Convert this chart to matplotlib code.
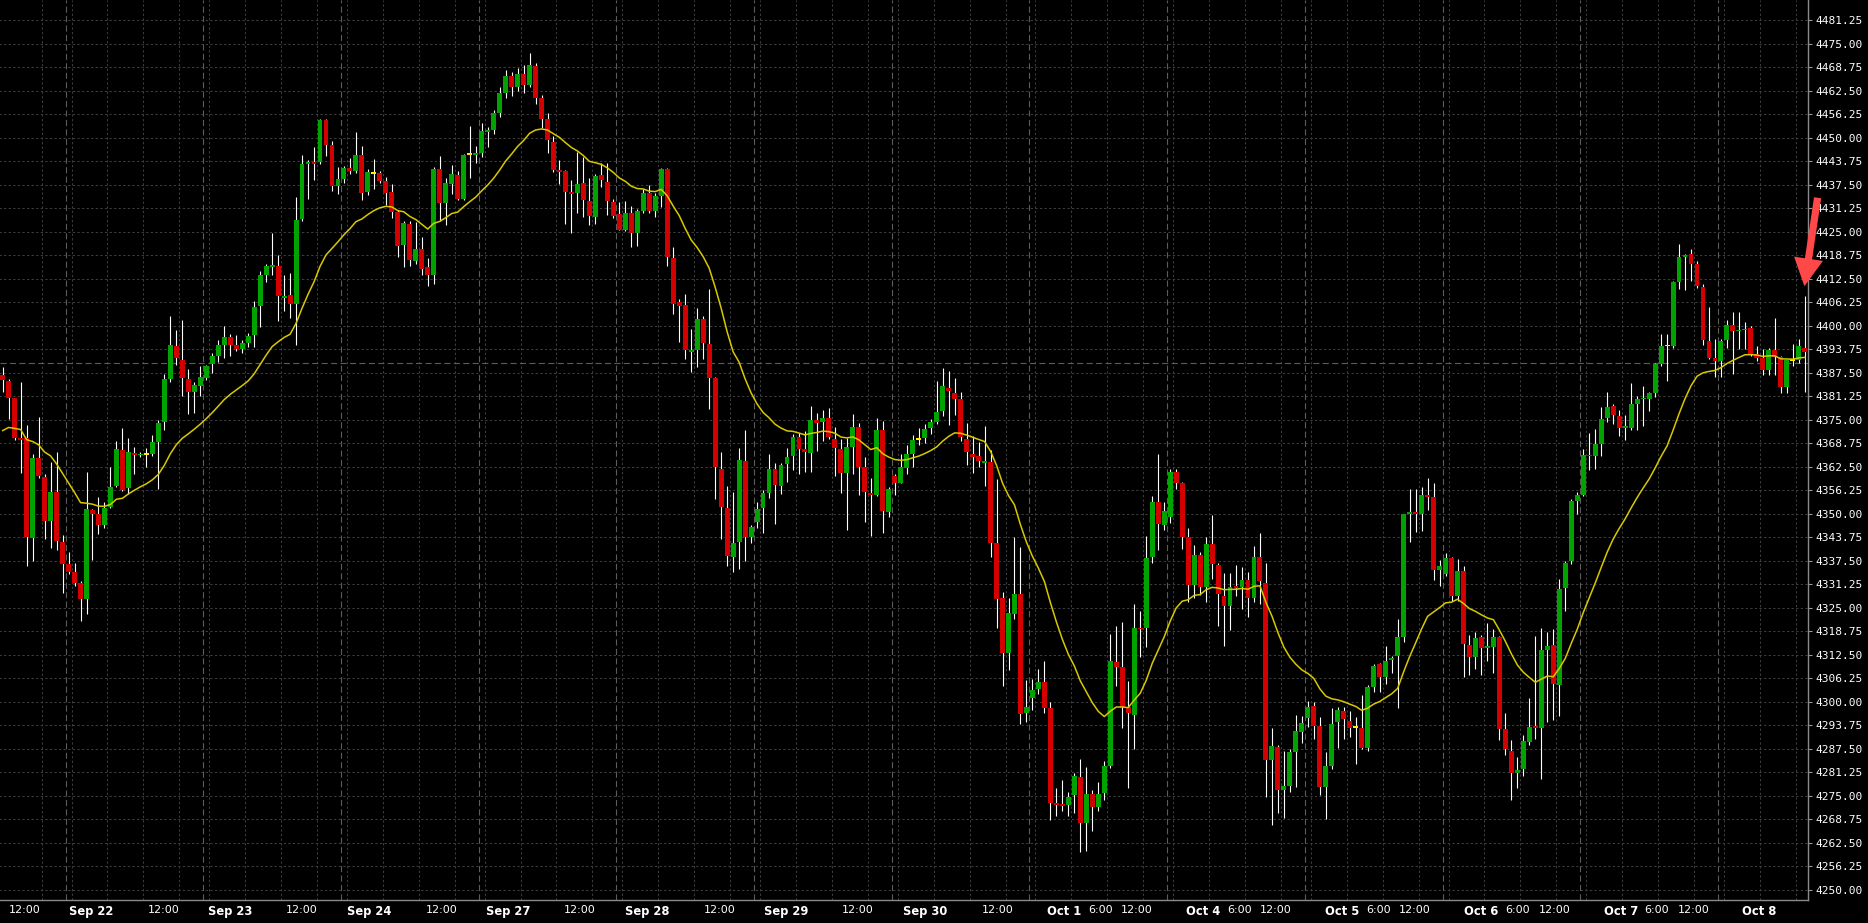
import numpy as np
import pandas as pd
import matplotlib
matplotlib.use('Agg')
import matplotlib.pyplot as plt
from matplotlib.patches import FancyArrowPatch

# ─── DATA (hourly candles) ──────────────────────────────────────
opens = [
    4386.9, 4385.3, 4380.7, 4370.1, 4370.1, 4343.6, 4364.8, 4359.8, 4348.1, 4355.8,
    4342.5, 4336.5, 4334.5, 4331.6, 4327.2, 4351.0, 4349.8, 4347.1, 4351.9, 4357.4,
    4367.0, 4356.8, 4366.1, 4365.5, 4365.6, 4366.0, 4369.2, 4374.5, 4385.9, 4394.5,
    4390.9, 4385.9, 4382.5, 4384.1, 4386.1, 4389.7, 4391.9, 4395.0, 4397.0, 4395.0,
    4393.8, 4395.3, 4397.5, 4405.2, 4413.4, 4415.6, 4416.0, 4407.5, 4408.1, 4405.8,
    4428.4, 4443.1, 4443.5, 4443.6, 4454.7, 4448.0, 4437.1, 4439.1, 4442.0, 4441.1,
    4445.5, 4435.5, 4440.4, 4440.6, 4438.6, 4435.5, 4430.2, 4421.4, 4427.1, 4417.3,
    4420.3, 4415.6, 4413.6, 4441.6, 4432.7, 4437.6, 4440.2, 4433.8, 4445.4, 4445.4,
    4446.0, 4451.6, 4452.0, 4456.5, 4462.0, 4466.5, 4463.5, 4467.0, 4464.0, 4469.0,
    4460.5, 4455.0, 4448.9, 4441.4, 4441.2, 4435.5, 4435.2, 4437.9, 4433.2, 4429.0,
    4440.2, 4438.2, 4433.0, 4429.7, 4425.4, 4430.0, 4424.8, 4430.6, 4435.3, 4430.4,
    4434.6, 4441.8, 4418.0, 4406.2, 4405.6, 4392.9, 4393.6, 4401.9, 4395.1, 4386.1,
    4361.9, 4351.5, 4338.5, 4342.6, 4363.9, 4343.9, 4347.7, 4351.4, 4355.6, 4362.0,
    4357.4, 4363.2, 4365.3, 4370.3, 4367.3, 4366.2, 4374.8, 4374.5, 4375.4, 4370.0,
    4367.1, 4360.8, 4367.7, 4373.0, 4362.4, 4355.4, 4355.0, 4372.2, 4350.5, 4359.9,
    4358.3, 4362.2, 4365.9, 4369.6, 4370.1, 4372.8, 4374.3, 4377.3, 4383.5, 4382.2,
    4380.6, 4370.0, 4366.0, 4365.3, 4363.5, 4363.7, 4342.1, 4327.5, 4313.0, 4323.4,
    4328.7, 4297.0, 4301.0, 4303.3, 4305.1, 4298.3, 4273.1, 4272.7, 4272.5, 4275.1,
    4280.0, 4267.6, 4275.4, 4271.9, 4275.6, 4282.9, 4310.6, 4309.3, 4298.6, 4296.5,
    4319.6, 4319.5, 4338.4, 4353.0, 4347.0, 4349.2, 4361.0, 4358.3, 4343.9, 4331.0,
    4339.1, 4330.4, 4341.9, 4336.4, 4328.2, 4325.5, 4330.8, 4330.4, 4332.4, 4327.5,
    4338.5, 4331.7, 4284.5, 4288.0, 4276.6, 4277.6, 4286.5, 4292.0, 4295.6, 4298.9,
    4293.6, 4277.2, 4282.9, 4294.5, 4297.6, 4294.9, 4293.1, 4293.1, 4287.8, 4304.0,
    4310.0, 4306.6, 4311.0, 4312.1, 4317.2, 4350.0, 4350.5, 4350.0, 4355.0, 4354.5,
    4335.0, 4334.0, 4338.2, 4328.2, 4334.7, 4315.0, 4311.9, 4317.2, 4314.3, 4314.5,
    4317.2, 4292.8, 4287.0, 4281.0, 4282.0, 4289.3, 4293.4, 4293.1, 4313.8, 4315.0,
    4304.5, 4330.2, 4337.3, 4353.4, 4355.1, 4365.7, 4365.4, 4368.6, 4375.5, 4378.6,
    4376.0, 4372.8, 4372.9, 4379.1, 4380.4, 4380.4, 4382.0, 4389.9, 4394.5, 4394.5,
    4411.6, 4418.4, 4419.0, 4416.5, 4410.4, 4396.0, 4391.3, 4390.6, 4396.2, 4400.3,
    4398.5, 4398.8, 4399.5, 4392.6, 4391.3, 4388.2, 4393.6, 4391.8, 4383.8, 4390.6,
    4390.9, 4394.0,
]
highs = [
    4388.9, 4385.8, 4380.9, 4385.0, 4373.6, 4366.0, 4375.7, 4360.5, 4363.8, 4366.4,
    4344.3, 4339.7, 4336.9, 4332.0, 4361.1, 4351.2, 4354.5, 4353.1, 4362.4, 4369.4,
    4372.9, 4370.2, 4367.8, 4366.5, 4367.6, 4371.0, 4374.9, 4387.1, 4402.5, 4399.0,
    4401.5, 4388.5, 4385.0, 4389.2, 4389.6, 4392.8, 4396.3, 4399.9, 4397.9, 4397.5,
    4396.3, 4398.1, 4406.5, 4414.7, 4416.5, 4424.6, 4418.9, 4413.6, 4414.1, 4434.2,
    4445.3, 4444.2, 4447.5, 4455.0, 4455.0, 4449.1, 4442.2, 4442.4, 4444.7, 4451.6,
    4447.8, 4441.7, 4444.4, 4441.3, 4439.5, 4437.6, 4430.9, 4428.0, 4428.0, 4427.6,
    4423.6, 4418.1, 4442.2, 4445.1, 4439.3, 4442.7, 4441.3, 4445.8, 4453.1, 4447.8,
    4454.0, 4452.8, 4457.5, 4463.5, 4468.0, 4467.5, 4468.5, 4469.5, 4472.5, 4470.0,
    4461.5, 4456.5, 4450.5, 4444.1, 4441.5, 4438.7, 4446.1, 4444.8, 4439.3, 4440.3,
    4443.4, 4443.4, 4433.7, 4432.8, 4433.2, 4431.9, 4431.0, 4436.3, 4437.5, 4435.2,
    4442.1, 4442.1, 4421.0, 4407.1, 4408.4, 4399.1, 4404.7, 4402.6, 4409.7, 4386.5,
    4366.3, 4357.4, 4355.8, 4367.6, 4372.2, 4347.0, 4353.0, 4356.3, 4365.8, 4363.6,
    4363.5, 4367.5, 4371.1, 4371.6, 4372.0, 4378.6, 4376.7, 4377.7, 4378.1, 4373.0,
    4369.8, 4370.2, 4376.4, 4374.0, 4365.0, 4359.5, 4375.4, 4374.6, 4357.2, 4360.6,
    4365.9, 4368.4, 4370.9, 4372.9, 4373.8, 4375.2, 4385.3, 4388.8, 4387.9, 4386.2,
    4382.4, 4374.1, 4370.7, 4369.1, 4373.4, 4366.9, 4359.2, 4329.3, 4327.5, 4343.7,
    4341.2, 4305.7, 4306.0, 4308.6, 4310.9, 4299.8, 4277.0, 4279.2, 4276.1, 4280.9,
    4284.7, 4282.7, 4276.5, 4278.7, 4284.1, 4318.1, 4320.2, 4321.2, 4305.6, 4325.9,
    4324.2, 4344.1, 4354.8, 4365.9, 4353.0, 4361.9, 4361.9, 4358.5, 4346.3, 4341.7,
    4339.7, 4343.7, 4349.7, 4337.0, 4334.1, 4334.1, 4336.4, 4335.9, 4334.4, 4341.5,
    4344.8, 4336.8, 4293.0, 4288.5, 4286.8, 4287.5, 4296.5, 4296.2, 4300.1, 4300.0,
    4295.8, 4286.5, 4298.3, 4298.5, 4298.5, 4297.6, 4295.8, 4301.8, 4304.5, 4310.0,
    4310.3, 4314.8, 4312.1, 4322.0, 4350.0, 4356.7, 4356.7, 4357.2, 4359.6, 4358.2,
    4337.6, 4339.5, 4338.6, 4337.9, 4336.0, 4317.7, 4318.6, 4317.7, 4321.0, 4319.4,
    4317.5, 4297.1, 4289.7, 4285.4, 4291.2, 4301.0, 4317.4, 4319.6, 4318.6, 4319.3,
    4332.6, 4337.4, 4354.0, 4355.8, 4367.3, 4371.4, 4372.6, 4378.4, 4382.5, 4379.1,
    4377.5, 4376.2, 4384.9, 4381.3, 4383.9, 4382.5, 4390.2, 4397.8, 4397.8, 4411.8,
    4421.8, 4419.1, 4420.5, 4417.1, 4411.0, 4405.1, 4396.4, 4396.4, 4401.5, 4403.6,
    4403.6, 4400.9, 4399.9, 4394.7, 4393.8, 4394.2, 4402.0, 4392.0, 4391.0, 4395.1,
    4396.4, 4408.0,
]
lows = [
    4382.5, 4375.1, 4369.5, 4360.9, 4336.1, 4337.3, 4359.5, 4343.4, 4341.0, 4340.4,
    4329.0, 4334.0, 4330.8, 4321.5, 4323.3, 4337.6, 4344.7, 4346.3, 4351.5, 4357.0,
    4356.0, 4355.3, 4360.5, 4365.0, 4362.5, 4365.3, 4356.5, 4372.2, 4385.0, 4389.5,
    4381.3, 4376.6, 4376.9, 4381.3, 4385.7, 4387.5, 4390.4, 4391.3, 4391.9, 4393.3,
    4392.8, 4394.3, 4394.3, 4399.6, 4411.7, 4413.6, 4401.2, 4404.0, 4402.1, 4394.8,
    4427.8, 4433.8, 4438.8, 4442.9, 4445.1, 4435.8, 4435.1, 4438.0, 4440.4, 4440.7,
    4433.4, 4434.9, 4436.4, 4438.0, 4432.2, 4428.7, 4418.2, 4415.6, 4416.0, 4416.5,
    4413.6, 4410.5, 4411.0, 4427.8, 4426.9, 4435.1, 4433.5, 4433.5, 4439.4, 4443.3,
    4444.8, 4447.5, 4451.0, 4455.5, 4460.5, 4461.0, 4462.5, 4462.0, 4463.5, 4459.0,
    4452.5, 4446.0, 4441.0, 4437.7, 4427.0, 4424.8, 4430.1, 4428.8, 4426.8, 4427.2,
    4437.0, 4429.4, 4428.6, 4425.4, 4425.2, 4421.0, 4421.3, 4430.1, 4429.9, 4428.8,
    4431.5, 4416.0, 4403.1, 4395.8, 4391.1, 4387.8, 4389.1, 4391.1, 4377.8, 4354.0,
    4343.2, 4336.1, 4334.5, 4335.2, 4337.3, 4342.3, 4346.1, 4345.0, 4354.3, 4347.2,
    4355.2, 4358.5, 4361.7, 4360.6, 4361.0, 4361.2, 4366.6, 4369.3, 4369.8, 4360.1,
    4355.4, 4345.7, 4360.6, 4355.1, 4347.8, 4344.0, 4354.6, 4344.9, 4349.0, 4355.0,
    4358.1, 4360.6, 4362.4, 4368.4, 4368.9, 4371.1, 4373.8, 4375.9, 4373.6, 4376.3,
    4369.3, 4362.9, 4360.8, 4362.4, 4357.4, 4338.5, 4319.6, 4304.2, 4308.5, 4322.1,
    4294.1, 4294.7, 4297.7, 4302.1, 4297.0, 4268.6, 4269.7, 4270.9, 4269.6, 4270.5,
    4259.9, 4260.2, 4265.5, 4271.0, 4273.9, 4282.3, 4304.2, 4292.9, 4277.0, 4287.4,
    4311.9, 4314.6, 4337.0, 4340.3, 4345.6, 4347.4, 4356.5, 4340.6, 4326.4, 4327.5,
    4328.4, 4326.4, 4332.6, 4320.2, 4314.9, 4319.0, 4328.0, 4324.6, 4322.4, 4326.6,
    4326.1, 4274.7, 4267.2, 4270.3, 4269.0, 4276.1, 4277.2, 4289.1, 4293.3, 4290.2,
    4275.2, 4268.9, 4282.0, 4287.6, 4290.2, 4290.7, 4283.4, 4287.3, 4286.8, 4302.7,
    4302.7, 4304.8, 4307.7, 4298.4, 4316.0, 4342.5, 4345.2, 4345.3, 4350.9, 4332.4,
    4330.9, 4333.5, 4326.8, 4326.8, 4306.6, 4307.1, 4308.7, 4307.1, 4310.9, 4307.7,
    4289.7, 4285.8, 4273.8, 4276.9, 4280.3, 4288.5, 4290.2, 4279.4, 4294.5, 4295.0,
    4296.2, 4324.1, 4336.5, 4349.8, 4354.8, 4361.7, 4362.0, 4365.4, 4374.3, 4373.8,
    4370.7, 4369.5, 4372.4, 4372.2, 4373.3, 4377.2, 4381.0, 4389.3, 4385.3, 4394.0,
    4409.8, 4409.5, 4412.0, 4410.0, 4394.9, 4391.1, 4386.4, 4386.4, 4394.2, 4387.1,
    4393.8, 4393.8, 4392.0, 4390.6, 4386.9, 4386.9, 4386.9, 4382.2, 4382.2, 4389.3,
    4390.0, 4382.5,
]
closes = [
    4385.6, 4380.9, 4370.2, 4369.6, 4343.9, 4364.7, 4359.9, 4348.1, 4355.8, 4342.8,
    4336.5, 4334.5, 4331.6, 4327.2, 4351.3, 4350.0, 4347.1, 4351.5, 4357.1, 4367.2,
    4356.4, 4366.4, 4365.5, 4365.8, 4365.6, 4369.1, 4374.2, 4385.9, 4395.0, 4391.3,
    4386.2, 4382.5, 4384.3, 4386.5, 4389.2, 4391.9, 4395.0, 4397.0, 4395.0, 4393.8,
    4395.3, 4397.2, 4405.0, 4413.4, 4415.8, 4416.0, 4407.9, 4407.9, 4405.8, 4428.1,
    4442.9, 4443.5, 4443.1, 4454.7, 4448.0, 4437.1, 4439.1, 4442.0, 4441.1, 4445.4,
    4435.4, 4440.8, 4440.4, 4438.6, 4435.4, 4430.2, 4421.2, 4427.4, 4417.4, 4420.3,
    4415.2, 4413.6, 4441.6, 4432.7, 4438.0, 4440.5, 4433.8, 4445.5, 4445.4, 4445.8,
    4451.8, 4452.0, 4456.5, 4462.0, 4466.5, 4463.5, 4467.0, 4464.0, 4469.5, 4460.5,
    4455.0, 4449.5, 4441.5, 4441.0, 4435.5, 4435.0, 4437.8, 4433.5, 4429.2, 4439.9,
    4438.7, 4433.2, 4429.2, 4425.4, 4429.9, 4424.8, 4430.6, 4435.3, 4430.4, 4434.6,
    4441.8, 4418.2, 4405.9, 4405.3, 4393.5, 4393.5, 4401.8, 4395.5, 4386.2, 4362.3,
    4351.7, 4338.8, 4342.3, 4364.2, 4343.9, 4346.5, 4351.2, 4355.5, 4362.0, 4357.6,
    4363.0, 4365.0, 4370.5, 4367.3, 4366.4, 4375.0, 4374.1, 4375.4, 4370.4, 4367.5,
    4360.8, 4367.8, 4373.0, 4362.4, 4355.8, 4355.0, 4372.2, 4350.7, 4356.5, 4358.3,
    4362.3, 4365.9, 4369.6, 4369.6, 4372.5, 4374.3, 4377.0, 4383.9, 4382.6, 4380.4,
    4370.4, 4366.4, 4365.0, 4364.0, 4364.0, 4342.2, 4327.3, 4313.0, 4323.5, 4328.7,
    4296.7, 4298.5, 4303.0, 4305.3, 4298.3, 4273.1, 4272.5, 4272.3, 4274.7, 4280.3,
    4267.6, 4275.4, 4272.1, 4275.4, 4282.9, 4310.9, 4309.3, 4298.6, 4296.9, 4319.6,
    4319.2, 4338.2, 4353.0, 4347.2, 4350.8, 4361.0, 4358.3, 4343.9, 4331.0, 4339.1,
    4330.6, 4341.9, 4336.6, 4328.6, 4325.5, 4330.6, 4330.2, 4332.4, 4327.5, 4338.4,
    4332.0, 4284.5, 4288.3, 4276.6, 4277.6, 4286.5, 4292.1, 4294.2, 4298.6, 4293.6,
    4277.2, 4282.9, 4294.0, 4297.7, 4295.4, 4293.1, 4293.1, 4287.8, 4303.9, 4309.5,
    4306.6, 4310.9, 4311.7, 4317.2, 4349.8, 4350.5, 4350.0, 4355.0, 4354.4, 4335.0,
    4336.0, 4338.2, 4328.2, 4334.7, 4315.3, 4311.9, 4317.0, 4314.3, 4314.5, 4317.2,
    4292.8, 4287.5, 4281.0, 4281.8, 4289.5, 4293.3, 4293.1, 4313.8, 4314.8, 4304.7,
    4329.9, 4337.0, 4353.4, 4355.1, 4365.6, 4365.3, 4368.6, 4375.3, 4378.4, 4376.2,
    4372.9, 4373.0, 4379.1, 4380.4, 4380.9, 4382.0, 4389.9, 4394.7, 4394.5, 4411.6,
    4418.4, 4418.9, 4416.5, 4410.7, 4396.2, 4391.3, 4390.6, 4396.0, 4400.3, 4398.7,
    4398.9, 4399.2, 4392.6, 4391.3, 4388.2, 4393.6, 4391.8, 4383.8, 4390.8, 4390.6,
    4394.5, 4393.1,
]

# yellow line on the chart is a 20 bar EMA of the closes; value at the left edge
MA_SEED = 4370.7
MA_SPAN = 20
LAST_LINE = 4390.1   # dashed horizontal price line

# time axis labels (position in bar units)
tick_labels = ["12:00", "Sep 22", "12:00", "Sep 23", "12:00", "Sep 24", "12:00", "Sep 27",
               "12:00", "Sep 28", "12:00", "Sep 29", "12:00", "Sep 30", "12:00",
               "Oct 1", "6:00", "12:00", "Oct 4", "6:00", "12:00", "Oct 5", "6:00", "12:00",
               "Oct 6", "6:00", "12:00", "Oct 7", "6:00", "12:00", "Oct 8"]
tick_pos = [3.66, 14.72, 26.84, 37.95, 50.02, 61.22, 73.26, 84.40, 96.41, 107.60,
            119.68, 130.82, 142.86, 154.02, 166.13, 177.23, 183.40, 189.33, 200.53,
            206.66, 212.58, 223.80, 229.85, 235.89, 247.00, 253.10, 259.15, 270.25,
            276.30, 282.41, 293.38]

# ─── STYLE ──────────────────────────────────────────────────────
BG = '#000000'
UP = '#00a300'
DOWN = '#d40000'
DOJI = '#ffee00'
MA_COL = '#d8c800'
GRID = '#3c3c3c'
SEP = '#5c5c5c'

W, H = 1868, 923
fig = plt.figure(figsize=(W / 100, H / 100), dpi=100, facecolor=BG)
ax = fig.add_axes([0, 23.5 / H, 1808 / W, 899.5 / H])
ax.set_facecolor(BG)

n = len(closes)
x = np.arange(n)
o = np.array(opens); c = np.array(closes)
hi = np.array(highs); lo = np.array(lows)

# grid: price levels every 6.25, time lines every 6 bars, session separators
yticks = np.arange(4250, 4482, 6.25)
ax.hlines(yticks, -1, n + 1, colors=GRID, linewidth=0.75, linestyles=(0, (2.2, 2.2)), zorder=0)
seps = np.arange(10.5, n, 23)
for s in seps:
    ax.axvline(s, color=SEP, linewidth=0.8, linestyle=(0, (5.5, 3)), zorder=0)
    for off in (1, 7, 13, 19):
        ax.axvline(s + off, color=GRID, linewidth=0.75, linestyle=(0, (2.2, 2.2)), zorder=0)
ax.axvline(seps[0] - 4, color=GRID, linewidth=0.75, linestyle=(0, (2.2, 2.2)), zorder=0)
ax.axhline(LAST_LINE, color=SEP, linewidth=0.8, linestyle=(0, (5.5, 3)), zorder=0)

# candles
ax.vlines(x, lo, hi, colors='white', linewidth=0.8, zorder=2)
body_lo = np.minimum(o, c)
body_h = np.maximum(np.abs(c - o), 0.45)
cols = np.where(c > o, UP, np.where(c < o, DOWN, DOJI))
ax.bar(x, body_h, bottom=body_lo, width=0.82, color=cols, linewidth=0, zorder=3)

# moving average
ma = pd.Series([MA_SEED] + closes).ewm(span=MA_SPAN, adjust=False).mean().values[1:]
ax.plot(x, ma, color=MA_COL, linewidth=1.1, zorder=4)

ax.set_xlim(-0.45, 301.54)
ax.set_ylim(4247.37, 4486.66)

# axes
for side in ('left', 'top'):
    ax.spines[side].set_visible(False)
for side in ('right', 'bottom'):
    ax.spines[side].set_color('#8a8a8a')
    ax.spines[side].set_linewidth(1.0)
ax.yaxis.tick_right()
ax.set_yticks(yticks)
ax.set_yticklabels([f'{v:.2f}' for v in yticks], family='DejaVu Sans Mono', fontsize=8, color='white')
ax.tick_params(axis='y', length=3, width=0.8, color='#9a9a9a', pad=2.5)
ax.set_xticks(tick_pos)
ax.set_xticklabels(tick_labels, fontsize=8, color='white')
ax.tick_params(axis='x', length=0, pad=4)
for lab in ax.get_xticklabels():
    if ':' not in lab.get_text():
        lab.set_fontweight('bold')
        lab.set_fontsize(8.3)

# red arrow pointing at the last bar
arrow = FancyArrowPatch((1818, H - 195), (1804, H - 289), transform=None,
                        arrowstyle='simple,head_length=1.0,head_width=1.05,tail_width=0.26',
                        mutation_scale=20, color='#ff4848', linewidth=0, zorder=10)
fig.patches.append(arrow)

fig.savefig('out.png', dpi=100, facecolor=BG)
